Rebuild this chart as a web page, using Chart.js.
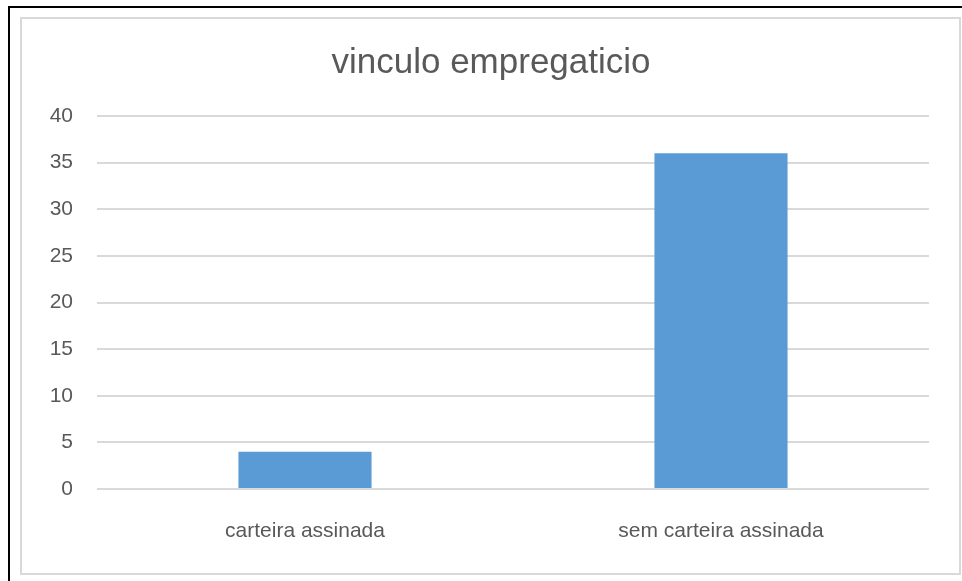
<!DOCTYPE html>
<html>
<head>
<meta charset="utf-8">
<script src="https://cdn.jsdelivr.net/npm/chart.js@4"></script>
<style>
  body { margin: 0; background: #fff; }
  #wrap { position: relative; width: 962px; height: 581px; overflow: hidden; }
  #outer { position: absolute; left: 8px; top: 6px; width: 1000px; height: 1000px; border-left: 2px solid #000; border-top: 2px solid #000; }
  #inner { position: absolute; left: 20px; top: 17px; width: 937px; height: 554px; border: 2px solid #d9d9d9; }
  canvas { position: absolute; left: 0; top: 0; }
</style>
</head>
<body>
<div id="wrap">
  <div id="outer"></div>
  <div id="inner"></div>
  <canvas id="vinculoChart" width="962" height="581"></canvas>
</div>
<script>
const categorias = ['carteira assinada', 'sem carteira assinada'];
const valores = [4, 36];
const tituloGrafico = 'vinculo empregaticio';

const corTexto = '#595959';
const fonte = 'Liberation Sans, Arial, sans-serif';

const ctx = document.getElementById('vinculoChart').getContext('2d');
const vinculoChart = new Chart(ctx, {
    type: 'bar',
    data: {
        labels: categorias,
        datasets: [{
            label: 'Série1',
            data: valores,
            backgroundColor: '#5b9bd5',
            borderWidth: 0,
            categoryPercentage: 1,
            barPercentage: 0.32
        }]
    },
    options: {
        responsive: false,
        animation: false,
        layout: { padding: { left: 20, right: 0, top: 0, bottom: 0 } },
        plugins: {
            legend: { display: false },
            tooltip: { enabled: false },
            title: {
                display: true,
                text: tituloGrafico,
                color: corTexto,
                font: { family: fonte, size: 35, weight: 'normal' },
                padding: { top: 42, bottom: 32 }
            }
        },
        scales: {
            x: {
                grid: { display: false, drawTicks: false },
                border: { display: false },
                ticks: { color: corTexto, font: { family: fonte, size: 21 }, padding: 30 },
                afterFit: (s) => { s.height = 92; }
            },
            y: {
                min: 0,
                max: 40,
                ticks: { stepSize: 5, color: corTexto, font: { family: fonte, size: 21 }, padding: 24 },
                grid: { color: '#d9d9d9', lineWidth: 2, drawTicks: false },
                border: { display: false },
                afterFit: (s) => { s.width = 77; }
            },
            y2: {
                position: 'right',
                display: true,
                grid: { display: false, drawTicks: false },
                border: { display: false },
                ticks: { display: false },
                afterFit: (s) => { s.width = 33; }
            }
        }
    }
});
</script>
</body>
</html>
